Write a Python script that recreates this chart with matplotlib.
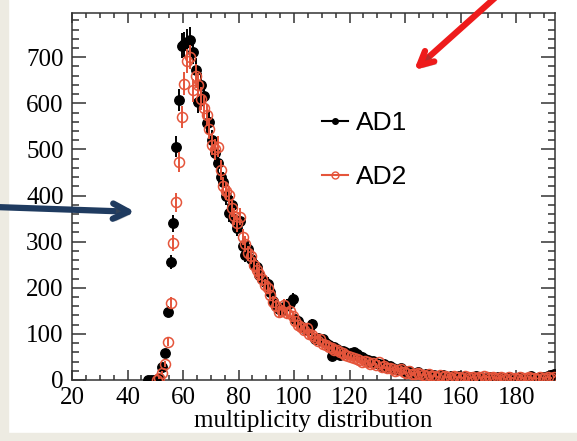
import numpy as np
import matplotlib.pyplot as plt
from matplotlib.lines import Line2D
from matplotlib.patches import Rectangle
import matplotlib.patheffects as pe

# Conteos por bin (centros de bin desde 47.5, ancho 1)
ad1_start = 47.5
ad1 = [0, 0, 0, 1, 4, 28, 59, 148, 256, 340, 506, 607, 725, 728, 734, 738,
       712, 672, 604, 640, 615, 557, 560, 520, 492, 470, 441, 430, 400, 362,
       380, 350, 330, 345, 290, 272, 285, 262, 250, 245, 228, 220, 212, 208,
       190, 172, 160, 155, 152, 158, 163, 168, 175, 132, 128, 118, 112, 108,
       110, 122, 90, 92, 86, 88, 80, 75, 52, 72, 68, 54, 62, 60, 56, 58, 60,
       57, 52, 50, 46, 44, 40, 42, 36, 34, 30, 35, 28, 30, 26, 24, 22, 25, 20,
       18, 20, 15, 14, 17, 12, 10, 13, 11, 8, 10, 9, 7, 11, 8, 6, 9, 7, 5, 8,
       6, 7, 4, 6, 5, 8, 4, 6, 5, 3, 6, 5, 4, 7, 3, 5, 4, 6, 3, 5, 4, 6, 3, 5,
       4, 8, 5, 4, 6, 7, 5, 9, 11, 14]

ad2_start = 50.5
ad2 = [0, 5, 15, 35, 83, 167, 298, 385, 473, 571, 643, 692, 700, 628, 660,
       640, 610, 591, 575, 545, 510, 500, 506, 455, 420, 410, 401, 372, 355,
       340, 354, 310, 295, 275, 268, 250, 238, 230, 218, 205, 200, 185, 170,
       160, 148, 150, 162, 145, 150, 138, 128, 120, 115, 108, 112, 100, 98,
       92, 85, 88, 78, 75, 72, 70, 66, 64, 60, 58, 55, 52, 50, 48, 45, 44, 40,
       42, 38, 34, 36, 32, 38, 28, 30, 26, 25, 24, 20, 22, 23, 18, 16, 19, 14,
       13, 16, 12, 11, 9, 12, 8, 9, 7, 10, 6, 8, 7, 5, 9, 6, 7, 5, 8, 6, 5, 7,
       4, 6, 5, 8, 7, 4, 6, 5, 4, 7, 5, 3, 6, 4, 5, 3, 6, 4, 5, 7, 4, 5, 3, 6,
       4, 5, 6, 5, 7]

x1 = ad1_start + np.arange(len(ad1))
x2 = ad2_start + np.arange(len(ad2))
y1 = np.array(ad1, dtype=float)
y2 = np.array(ad2, dtype=float)

rojo = '#e5553b'
serif = ['Liberation Serif', 'DejaVu Serif']

fig = plt.figure(figsize=(5.77, 4.41), dpi=100)
fig.patch.set_facecolor('white')

# franjas del fondo de la diapositiva
beige = '#edebe2'
fig.add_artist(Rectangle((0, 0), 8 / 577, 1, transform=fig.transFigure,
                         color=beige, zorder=0))
fig.add_artist(Rectangle((0, 0), 1, 8 / 441, transform=fig.transFigure,
                         color=beige, zorder=0))

ax = fig.add_axes([72 / 577, 1 - 380 / 441, (555 - 72) / 577, (380 - 13) / 441])

ax.errorbar(x1, y1, yerr=np.sqrt(y1), fmt='o', color='black', ms=6.8,
            elinewidth=1.4, capsize=0, zorder=3)
ax.errorbar(x2, y2, yerr=np.sqrt(y2), fmt='o', color=rojo, mfc='none',
            mec=rojo, mew=1.1, ms=7.2, elinewidth=1.4, capsize=0, zorder=4)

ax.set_xlim(20, 194)
ax.set_ylim(0, 796)
ax.set_xticks(np.arange(20, 181, 20))
ax.set_xticks(np.arange(20, 195, 5), minor=True)
ax.set_yticks(np.arange(0, 701, 100))
ax.set_yticks(np.arange(0, 796, 20), minor=True)

ax.tick_params(which='both', direction='in', top=True, right=True,
               color='#333333', width=1.1)
ax.tick_params(axis='x', which='major', length=7.5, pad=5)
ax.tick_params(axis='x', which='minor', length=3.6)
ax.tick_params(axis='y', which='major', length=10, pad=6)
ax.tick_params(axis='y', which='minor', length=5)
for s in ax.spines.values():
    s.set_color('#333333')
    s.set_linewidth(1.1)

for lab in ax.get_xticklabels() + ax.get_yticklabels():
    lab.set_family(serif)
    lab.set_fontsize(18)

ax.set_xlabel('multiplicity distribution', family=serif, fontsize=18,
              labelpad=1)

# leyenda
h1 = Line2D([], [], color='black', marker='o', ms=4, lw=1.5)
h2 = Line2D([], [], color=rojo, marker='o', ms=5, mfc='none', mew=1, lw=1.5)
ax.legend([h1, h2], ['AD1', 'AD2'], loc='center left',
          bbox_to_anchor=(322 / 577, 1 - 150 / 441),
          bbox_transform=fig.transFigure, frameon=False, borderpad=0,
          borderaxespad=0, handlelength=1.0, handletextpad=0.3,
          labelspacing=1.15, prop={'family': ['Liberation Sans'], 'size': 19})

# flechas
sombra = [pe.SimplePatchShadow(offset=(2, -2), alpha=0.35), pe.Normal()]
a1 = ax.annotate('', xy=(138, 441 - 212), xycoords='figure pixels',
                 xytext=(-5, 441 - 207), textcoords='figure pixels',
                 arrowprops=dict(arrowstyle='->,head_length=1.1,head_width=0.55',
                                 color='#1f3b60', lw=4.5,
                                 capstyle='round', joinstyle='round'),
                 annotation_clip=False)
a1.arrow_patch.set_path_effects(sombra)
a2 = ax.annotate('', xy=(412, 441 - 72), xycoords='figure pixels',
                 xytext=(497, 445), textcoords='figure pixels',
                 arrowprops=dict(arrowstyle='->,head_length=1.0,head_width=0.5',
                                 color='#ee1b1b', lw=4.5,
                                 capstyle='round', joinstyle='round'),
                 annotation_clip=False)
a2.arrow_patch.set_path_effects(sombra)

fig.savefig('out.png', dpi=100)
